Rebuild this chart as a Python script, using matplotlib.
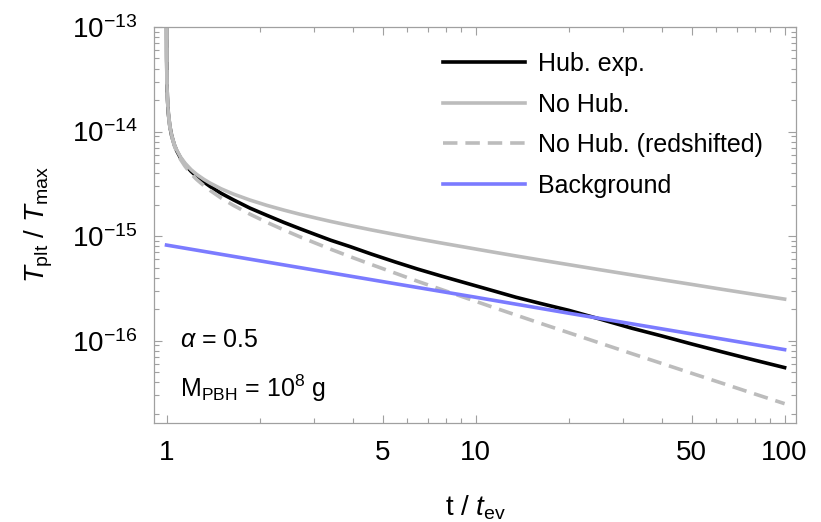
import numpy as np
import matplotlib
matplotlib.use('Agg')
import matplotlib.pyplot as plt
from matplotlib.ticker import FixedLocator, NullFormatter

plt.rcParams['font.family'] = ['Liberation Sans', 'DejaVu Sans']
plt.rcParams['mathtext.fontset'] = 'custom'
plt.rcParams['mathtext.rm'] = 'Liberation Sans'
plt.rcParams['mathtext.it'] = 'Liberation Sans:italic'
plt.rcParams['mathtext.bf'] = 'Liberation Sans:bold'

# ---------------- datos ----------------
t = [1.0002, 1.0005, 1.001, 1.003, 1.006, 1.0135, 1.025, 1.039, 1.06, 1.079,
     1.11, 1.148, 1.2, 1.252, 1.32, 1.383, 1.5, 1.645, 1.86, 2.11,
     2.4, 2.7, 3.05, 3.4, 3.92, 4.6, 5.5, 6.5, 7.7, 9,
     11, 13.5, 16.2, 20, 25, 32, 40, 50, 63, 80, 100]

# log10(T_plt / T_max)
hub_exp = [-12.983, -13.167, -13.305, -13.525, -13.663, -13.826, -13.950, -14.040, -14.128, -14.185,
           -14.253, -14.315, -14.380, -14.430, -14.482, -14.525, -14.590, -14.653, -14.732, -14.801,
           -14.870, -14.929, -14.988, -15.040, -15.100, -15.172, -15.248, -15.316, -15.380, -15.437,
           -15.510, -15.585, -15.644, -15.710, -15.790, -15.881, -15.955, -16.032, -16.109, -16.187, -16.258]

no_hub = [-12.983, -13.167, -13.305, -13.524, -13.663, -13.825, -13.948, -14.037, -14.123, -14.178,
          -14.244, -14.303, -14.364, -14.410, -14.457, -14.493, -14.547, -14.598, -14.655, -14.706,
          -14.752, -14.791, -14.828, -14.860, -14.899, -14.941, -14.985, -15.026, -15.065, -15.100,
          -15.145, -15.190, -15.229, -15.273, -15.320, -15.371, -15.417, -15.462, -15.510, -15.558, -15.603]

no_hub_red = [-12.983, -13.167, -13.305, -13.525, -13.664, -13.828, -13.953, -14.045, -14.136, -14.195,
              -14.267, -14.333, -14.404, -14.459, -14.517, -14.563, -14.635, -14.706, -14.790, -14.868,
              -14.942, -15.007, -15.070, -15.126, -15.196, -15.272, -15.355, -15.433, -15.508, -15.577,
              -15.666, -15.755, -15.834, -15.924, -16.019, -16.124, -16.218, -16.312, -16.409, -16.510, -16.603]

t_fondo = [1, 2, 5, 10, 20, 50, 100]
fondo = [8.2e-16, 5.8e-16, 3.67e-16, 2.6e-16, 1.83e-16, 1.16e-16, 8.2e-17]

etiquetas = ['Hub. exp.', 'No Hub.', 'No Hub. (redshifted)', 'Background']

# ---------------- grafico ----------------
fig = plt.figure(figsize=(8.21, 5.22), dpi=100)
ax = fig.add_axes([0.1876, 0.1897, 0.7820, 0.7586])

gris = '#bcbcbc'
ax.plot(t, 10 ** np.array(hub_exp), color='black', lw=2.6, label=etiquetas[0])
ax.plot(t, 10 ** np.array(no_hub), color=gris, lw=2.6, label=etiquetas[1])
ax.plot(t, 10 ** np.array(no_hub_red), color=gris, lw=2.6, dashes=(4.0, 2.2), label=etiquetas[2])
ax.plot(t_fondo, fondo, color='#7b7bff', lw=2.6, label=etiquetas[3])

ax.set_xscale('log')
ax.set_yscale('log')
ax.set_xlim(0.911, 108.9)
ax.set_ylim(1.63e-17, 1e-13)

# marco estilo Mathematica
for s in ax.spines.values():
    s.set_color('#a0a0a0')
    s.set_linewidth(0.9)

xmaj = [1, 5, 10, 50, 100]
xmin = [2, 3, 4, 6, 7, 8, 9, 20, 30, 40, 60, 70, 80, 90]
ax.xaxis.set_major_locator(FixedLocator(xmaj))
ax.xaxis.set_minor_locator(FixedLocator(xmin))
ax.set_xticklabels([str(v) for v in xmaj])
ax.xaxis.set_minor_formatter(NullFormatter())

ymaj = [1e-16, 1e-15, 1e-14, 1e-13]
ymin = [m * 10.0 ** e for e in range(-17, -13) for m in range(2, 10)]
ax.yaxis.set_major_locator(FixedLocator(ymaj))
ax.yaxis.set_minor_locator(FixedLocator(ymin))
ax.set_yticklabels([r'$10^{-16}$', r'$10^{-15}$', r'$10^{-14}$', r'$10^{-13}$'])
ax.yaxis.set_minor_formatter(NullFormatter())

ax.tick_params(which='both', direction='in', top=True, right=True, color='#a0a0a0', width=0.8)
ax.tick_params(which='major', length=6, labelsize=20, pad=12)
ax.tick_params(which='minor', length=3.5)

ax.set_xlabel(r'$\mathrm{t}\ /\ t_{\mathrm{ev}}$', fontsize=20, labelpad=20)
ax.set_ylabel(r'$T_{\mathrm{plt}}\ /\ T_{\mathrm{max}}$', fontsize=20, labelpad=12)

ax.text(0.04, 0.21, r'$\alpha$ = 0.5', transform=ax.transAxes, fontsize=18, va='center')
ax.text(0.04, 0.088, r'M$_{\mathrm{PBH}}$ = 10$^{8}$ g', transform=ax.transAxes, fontsize=18, va='center')

ax.legend(loc='upper left', bbox_to_anchor=(0.430, 0.968), frameon=False, fontsize=18,
          handlelength=3.3, handletextpad=0.5, labelspacing=0.66, borderpad=0)

plt.savefig('out.png', dpi=100)
